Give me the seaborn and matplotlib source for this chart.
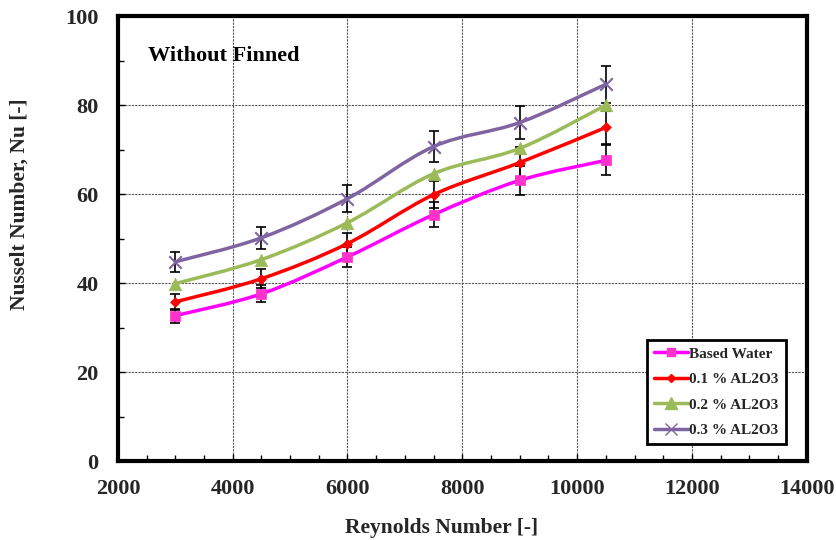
import numpy as np
import pandas as pd
import matplotlib
matplotlib.use("Agg")
import matplotlib.pyplot as plt
from matplotlib.path import Path
from matplotlib.patches import PathPatch
from matplotlib.ticker import MultipleLocator
import seaborn as sns

reynolds = [3000, 4500, 6000, 7500, 9000, 10500]
based_water = [32.7, 37.6, 45.9, 55.4, 63.1, 67.6]
al2o3_01 = [35.8, 41.0, 48.9, 59.9, 67.1, 75.0]
al2o3_02 = [39.9, 45.3, 53.6, 64.6, 70.3, 80.0]
al2o3_03 = [44.8, 50.2, 59.0, 70.7, 76.1, 84.7]
err_water = [1.6, 1.9, 2.3, 2.8, 3.2, 3.4]
err_01 = [1.8, 2.1, 2.4, 3.0, 3.4, 3.8]
err_03 = [2.2, 2.5, 3.0, 3.5, 3.8, 4.2]
labels = ["Based Water", "0.1 % AL2O3", "0.2 % AL2O3", "0.3 % AL2O3"]

series = [
    (labels[0], based_water, err_water, "#FF00FF", "s", 7, "#FF33CC"),
    (labels[1], al2o3_01, err_01, "#FF0000", "D", 5, "#FF0000"),
    (labels[2], al2o3_02, None, "#9BBB59", "^", 9, "#9BBB59"),
    (labels[3], al2o3_03, err_03, "#8064A2", "x", 9, "#8064A2"),
]

sns.set_theme(style="white")
plt.rcParams["font.family"] = ["Liberation Serif", "DejaVu Serif"]
plt.rcParams["font.weight"] = "bold"

fig = plt.figure(figsize=(8.36, 5.4), dpi=100)
ax = fig.add_axes([0.141, 0.146, 0.824, 0.824])


def smooth_path(xs, ys, t=1/6):
    pts = np.column_stack([xs, ys]).astype(float)
    verts = [tuple(pts[0])]
    codes = [Path.MOVETO]
    n = len(pts)
    for i in range(n - 1):
        p0 = pts[i - 1] if i > 0 else pts[i]
        p1 = pts[i]
        p2 = pts[i + 1]
        p3 = pts[i + 2] if i + 2 < n else pts[i + 1]
        c1 = p1 + (p2 - p0) * t
        c2 = p2 - (p3 - p1) * t
        verts += [tuple(c1), tuple(c2), tuple(p2)]
        codes += [Path.CURVE4] * 3
    return Path(verts, codes)


for name, vals, err, col, mk, ms, mcol in series:
    if err is not None:
        ax.errorbar(reynolds, vals, yerr=err, fmt="none", ecolor="black",
                    elinewidth=1.2, capsize=3.5, capthick=1.2, zorder=2)

handles = []
for name, vals, err, col, mk, ms, mcol in series:
    patch = PathPatch(smooth_path(reynolds, vals), facecolor="none", edgecolor=col,
                      lw=2.5, zorder=3, capstyle="round", joinstyle="round")
    ax.add_patch(patch)
    df = pd.DataFrame({"Re": reynolds, "Nu": vals})
    sns.scatterplot(data=df, x="Re", y="Nu", ax=ax, marker=mk, s=ms ** 2,
                    color=mcol, edgecolor=mcol if mk != "x" else None,
                    linewidth=1.5 if mk == "x" else 0.5, zorder=4, legend=False)
    h, = ax.plot([], [], color=col, lw=2.5, marker=mk, markersize=ms - 1,
                 markerfacecolor=mcol, markeredgecolor=mcol, label=name)
    handles.append(h)

ax.set_xlim(2000, 14000)
ax.set_ylim(0, 100)
ax.xaxis.set_major_locator(MultipleLocator(2000))
ax.xaxis.set_minor_locator(MultipleLocator(500))
ax.yaxis.set_major_locator(MultipleLocator(20))
ax.yaxis.set_minor_locator(MultipleLocator(10))
ax.grid(True, which="major", color="#555555", linestyle=(0, (2, 1)), linewidth=0.8)
ax.set_axisbelow(True)
ax.tick_params(which="both", direction="in", color="black", bottom=True, left=True)
ax.tick_params(which="major", length=5, width=1)
ax.tick_params(which="minor", length=4, width=1)
ax.tick_params(axis="x", pad=13, labelsize=16)
ax.tick_params(axis="y", pad=14, labelsize=16)
for lab in ax.get_xticklabels() + ax.get_yticklabels():
    lab.set_fontweight("bold")
for sp in ax.spines.values():
    sp.set_color("black")
    sp.set_linewidth(3)

ax.set_xlabel("Reynolds Number [-]", fontsize=15.5, fontweight="bold")
ax.set_ylabel("Nusselt Number, Nu [-]", fontsize=15.5, fontweight="bold")
ax.xaxis.set_label_coords(0.47, -0.128)
ax.yaxis.set_label_coords(-0.128, 0.578)
ax.text(0.044, 0.9, "Without Finned", transform=ax.transAxes, fontsize=16,
        fontweight="bold", color="black")

leg = ax.legend(handles=handles, loc="lower right", bbox_to_anchor=(0.9695, 0.038),
                frameon=True, fancybox=False, prop={"size": 11, "weight": "bold"},
                handlelength=2.2, handletextpad=0.1, labelspacing=0.78,
                borderpad=0.45, borderaxespad=0.0)
leg.get_frame().set_edgecolor("black")
leg.get_frame().set_linewidth(2)
leg.get_frame().set_alpha(1)

fig.savefig("out.png", dpi=100)
